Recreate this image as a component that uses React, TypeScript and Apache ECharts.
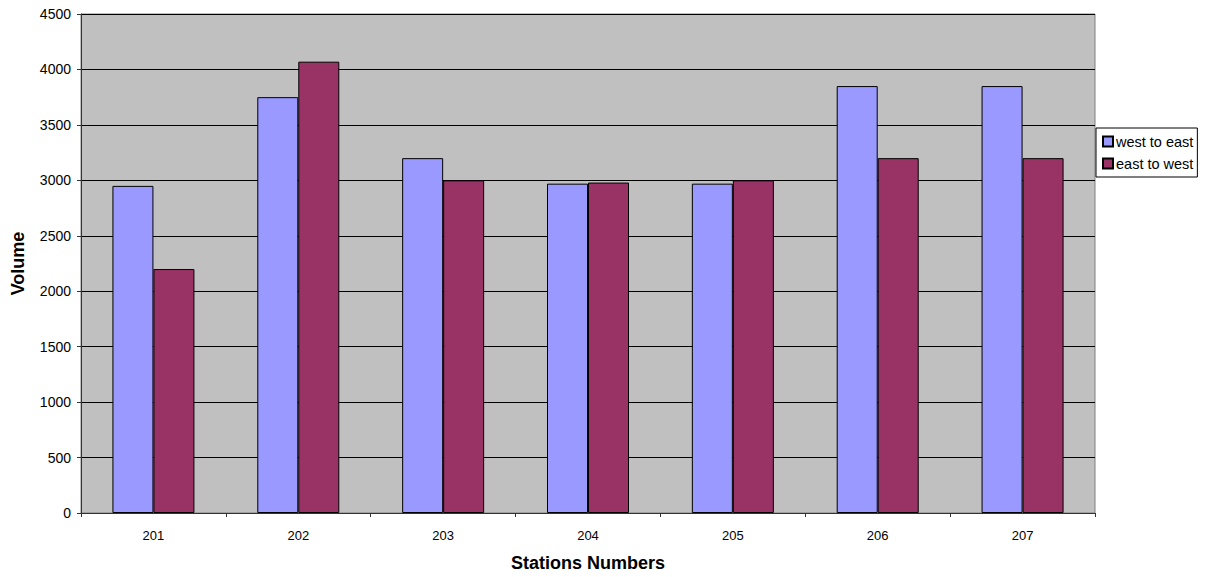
import React, { useEffect, useRef } from "react";
import * as echarts from "echarts";

const categories = ["201", "202", "203", "204", "205", "206", "207"];
const westToEast = [2950, 3750, 3200, 2970, 2970, 3850, 3850];
const eastToWest = [2200, 4070, 3000, 2980, 3000, 3200, 3200];
const seriesNames = ["west to east", "east to west"];

export default function App() {
  const ref = useRef<HTMLDivElement>(null);
  useEffect(() => {
    document.body.style.margin = "0";
    const chart = echarts.init(ref.current!, null, { renderer: "svg" });
    const font = "Liberation Sans, Arial, sans-serif";
    chart.setOption({
      animation: false,
      backgroundColor: "#ffffff",
      textStyle: { fontFamily: font },
      grid: {
        left: 81,
        top: 14,
        right: 128,
        bottom: 64,
        show: true,
        backgroundColor: "#C0C0C0",
        borderColor: "#808080",
        borderWidth: 1,
      },
      legend: {
        orient: "vertical",
        left: 1096,
        top: 128,
        backgroundColor: "#ffffff",
        borderColor: "#000000",
        borderWidth: 1,
        padding: [6, 4, 6, 6],
        itemGap: 7,
        itemWidth: 10,
        itemHeight: 10,
        icon: "rect",
        textStyle: { fontSize: 14.5, color: "#000", fontFamily: font, padding: [0, 0, 0, -2] },
        data: seriesNames,
      },
      xAxis: {
        type: "category",
        data: categories,
        name: "Stations Numbers",
        nameLocation: "middle",
        nameGap: 41,
        nameTextStyle: { fontSize: 18, fontWeight: "bold", color: "#000", fontFamily: font },
        axisLine: { show: true, lineStyle: { color: "#333", width: 1 } },
        axisTick: { show: true, alignWithLabel: false, length: 4, lineStyle: { color: "#333" } },
        axisLabel: { fontSize: 13, color: "#000", margin: 16, fontFamily: font },
        splitLine: { show: false },
      },
      yAxis: {
        type: "value",
        min: 0,
        max: 4500,
        interval: 500,
        name: "Volume",
        nameLocation: "middle",
        nameGap: 54,
        nameRotate: 90,
        nameTextStyle: { fontSize: 18, fontWeight: "bold", color: "#000", fontFamily: font },
        axisLine: { show: true, lineStyle: { color: "#333", width: 1 } },
        axisTick: { show: true, length: 4, lineStyle: { color: "#333" } },
        axisLabel: {
          fontSize: 14,
          color: "#000",
          margin: 10,
          fontFamily: font,
          formatter: (v: number) => String(v),
        },
        splitLine: { show: true, lineStyle: { color: "#000", width: 1 } },
      },
      series: [
        {
          name: seriesNames[0],
          type: "bar",
          data: westToEast,
          barWidth: 41,
          barGap: "0%",
          itemStyle: { color: "#9999FF", borderColor: "#000", borderWidth: 1 },
        },
        {
          name: seriesNames[1],
          type: "bar",
          data: eastToWest,
          barWidth: 41,
          barGap: "0%",
          itemStyle: { color: "#993366", borderColor: "#000", borderWidth: 1 },
        },
      ],
    });
    return () => chart.dispose();
  }, []);
  return <div ref={ref} style={{ width: 1223, height: 577 }} />;
}
